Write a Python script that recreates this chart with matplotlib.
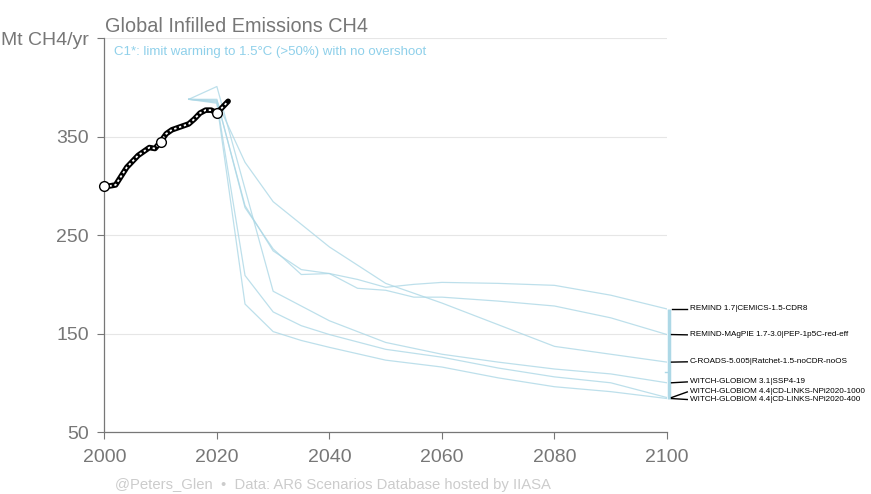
import numpy as np
import matplotlib
matplotlib.use('Agg')
import matplotlib.pyplot as plt

plt.rcParams['font.family'] = ['Liberation Sans', 'DejaVu Sans']

# historical emissions (Mt CH4/yr)
hist_years = list(range(2000, 2023))
hist_vals = [300, 300, 301, 310, 319, 325, 331, 335, 339, 338, 345, 353, 357,
             359, 361, 363, 368, 374, 377, 377, 374, 380, 386]
marker_years = [2000, 2010, 2020]
marker_vals = [300, 345, 374]

# scenario pathways
names = ['REMIND 1.7|CEMICS-1.5-CDR8',
         'REMIND-MAgPIE 1.7-3.0|PEP-1p5C-red-eff',
         'C-ROADS-5.005|Ratchet-1.5-noCDR-noOS',
         'WITCH-GLOBIOM 3.1|SSP4-19',
         'WITCH-GLOBIOM 4.4|CD-LINKS-NPi2020-1000',
         'WITCH-GLOBIOM 4.4|CD-LINKS-NPi2020-400']

yrs_remind = [2015, 2020, 2025, 2030, 2035, 2040, 2045, 2050, 2055, 2060, 2070, 2080, 2090, 2100]
cemics = [388, 387, 280, 234, 215, 211, 205, 197, 200, 202, 201, 199, 189, 175]
magpie = [388, 388, 278, 236, 210, 211, 196, 194, 187, 187, 183, 178, 166, 149]

yrs_croads = [2015, 2020, 2025, 2030, 2040, 2050, 2060, 2070, 2080, 2090, 2100]
croads = [388, 386, 324, 284, 238, 201, 181, 159, 137, 129, 121]

yrs_w31 = [2015, 2020, 2030, 2040, 2050, 2060, 2070, 2080, 2090, 2100]
w31 = [388, 401, 193, 163, 141, 129, 121, 114, 109, 100]

yrs_w44 = [2015, 2020, 2025, 2030, 2035, 2040, 2050, 2060, 2070, 2080, 2090, 2100]
w44_1000 = [388, 385, 209, 172, 158, 149, 134, 126, 115, 106, 100, 85]
w44_400 = [388, 384, 180, 152, 143, 136, 123, 116, 105, 96, 91, 84]

scen = [(yrs_remind, cemics), (yrs_remind, magpie), (yrs_croads, croads),
        (yrs_w31, w31), (yrs_w44, w44_1000), (yrs_w44, w44_400)]

fig = plt.figure(figsize=(8.71, 4.94), dpi=100)
ax = fig.add_axes([0.1198, 0.1255, 0.6460, 0.797])

blue = '#add8e6'
for yrs, vals in scen:
    ax.plot(yrs, vals, color=blue, lw=0.9, alpha=0.8, zorder=2)

ax.plot(hist_years, hist_vals, color='black', lw=4, solid_capstyle='round', zorder=4)
ax.plot(hist_years, hist_vals, color='white', lw=1.3, ls=(0, (1.3, 1.5)), zorder=5)
ax.plot(marker_years, marker_vals, 'o', ms=7, mfc='white', mec='black', mew=1, zorder=6,
        clip_on=False)

# range of 2100 values and median
ends = [v[-1] for _, v in scen]
ax.plot([2100.4, 2100.4], [min(ends), max(ends)], color=blue, lw=2.5, clip_on=False,
        solid_capstyle='butt')
med = np.median(ends)
ax.plot([2099.7, 2100.2], [med, med], color=blue, lw=1, clip_on=False)

# labels at right
label_y = [175, 148.7, 121.3, 100.9, 90.7, 83.0]
for i, name in enumerate(names):
    ax.plot([2100.8, 2103.6], [ends[i], label_y[i]], color='black', lw=1, clip_on=False)
    ax.text(2104.0, label_y[i], name, fontsize=5.9, va='center', ha='left', color='black',
            clip_on=False)

ax.set_xlim(2000, 2100)
ax.set_ylim(50, 450)
ax.set_xticks(range(2000, 2101, 20))
ax.set_yticks([50, 150, 250, 350, 450])
ax.set_yticklabels(['50', '150', '250', '350', 'Mt CH4/yr'])
ax.grid(axis='y', color='#e6e6e6', lw=0.8, zorder=0)
ax.set_axisbelow(True)
for s in ['top', 'right']:
    ax.spines[s].set_visible(False)
for s in ['left', 'bottom']:
    ax.spines[s].set_color('#777777')
    ax.spines[s].set_linewidth(0.9)
ax.tick_params(axis='both', colors='#777777', labelcolor='#777777', length=5, width=0.8,
               labelsize=14)
ax.tick_params(axis='y', pad=6)
ax.tick_params(axis='x', pad=7)

fig.text(0.1205, 0.935, 'Global Infilled Emissions CH4', fontsize=14.3, color='#777777',
         ha='left', va='baseline')
fig.text(0.131, 0.889, 'C1*: limit warming to 1.5°C (>50%) with no overshoot', fontsize=9.5,
         color='#8fd0ea', ha='left', va='baseline')
fig.text(0.132, 0.011, '@Peters_Glen  •  Data: AR6 Scenarios Database hosted by IIASA',
         fontsize=10.75, color='#cccccc', ha='left', va='baseline')

fig.savefig('out.png', dpi=100)
